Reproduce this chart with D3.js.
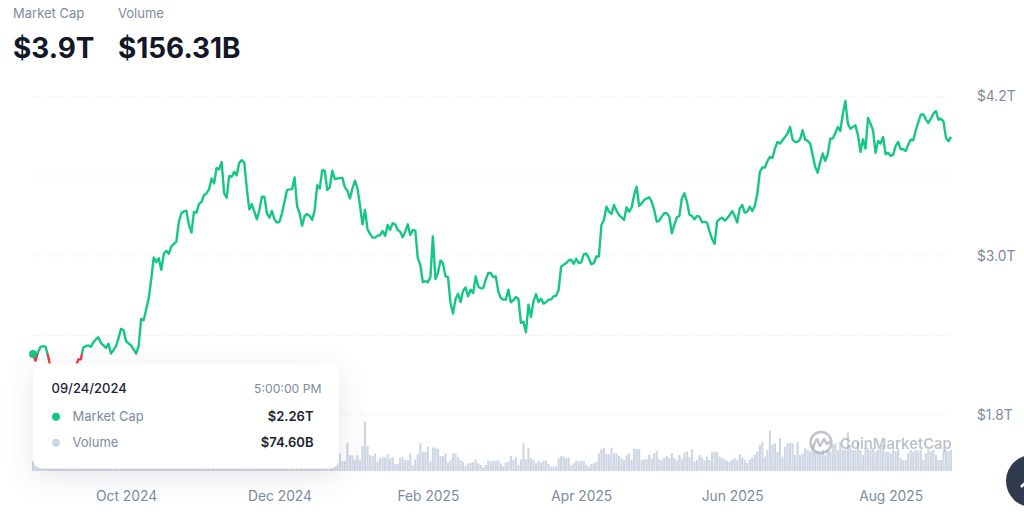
<!DOCTYPE html>
<html>
<head>
<meta charset="utf-8">
<script src="https://cdnjs.cloudflare.com/ajax/libs/d3/7.9.0/d3.min.js"></script>
<style>
html,body{margin:0;padding:0;background:#fff;overflow:hidden}
svg{display:block;font-family:Inter,"Noto Sans",sans-serif}
</style>
</head>
<body>
<svg id="chart" width="1024" height="517"></svg>
<script>
// Daily series, first value = startDate
const startDate = "2024-08-25";
const marketCap = [
2.26,2.21,2.275,2.315,2.32,2.315,2.245,2.155,2.10,2.08,
2.10,2.12,2.10,2.09,2.11,2.12,2.14,2.16,2.22,2.22,
2.31,2.32,2.325,2.315,2.35,2.37,2.387,2.345,2.325,2.307,
2.337,2.265,2.29,2.32,2.38,2.45,2.44,2.357,2.34,2.325,
2.295,2.265,2.32,2.525,2.515,2.595,2.68,2.82,2.987,2.952,
2.982,2.895,3.015,3.037,3.015,3.07,3.09,3.107,3.257,3.32,
3.335,3.34,3.232,3.175,3.33,3.325,3.39,3.405,3.457,3.47,
3.5,3.582,3.545,3.662,3.65,3.707,3.47,3.437,3.602,3.595,
3.632,3.607,3.7,3.72,3.702,3.507,3.35,3.39,3.332,3.275,
3.345,3.445,3.445,3.32,3.287,3.337,3.275,3.25,3.257,3.32,
3.407,3.495,3.5,3.502,3.59,3.375,3.32,3.227,3.3,3.315,
3.3,3.27,3.345,3.532,3.507,3.645,3.64,3.495,3.515,3.64,
3.577,3.582,3.585,3.587,3.515,3.49,3.432,3.507,3.565,3.51,
3.382,3.237,3.345,3.2,3.165,3.137,3.137,3.152,3.155,3.187,
3.15,3.232,3.195,3.245,3.237,3.195,3.182,3.14,3.182,3.237,
3.157,3.195,3.19,2.982,2.932,2.802,2.81,2.8,2.84,3.145,
2.825,2.87,2.965,2.945,2.845,2.84,2.645,2.565,2.675,2.715,
2.652,2.737,2.762,2.695,2.745,2.72,2.845,2.77,2.755,2.757,
2.82,2.87,2.87,2.84,2.845,2.732,2.682,2.67,2.67,2.745,
2.65,2.665,2.69,2.675,2.495,2.502,2.425,2.632,2.54,2.657,
2.712,2.652,2.677,2.64,2.65,2.67,2.67,2.695,2.7,2.745,
2.92,2.932,2.945,2.965,2.97,2.94,2.977,2.945,2.95,3.012,
3.015,2.982,2.937,2.945,2.995,2.995,3.232,3.27,3.37,3.332,
3.315,3.382,3.34,3.307,3.29,3.27,3.365,3.332,3.362,3.457,
3.52,3.375,3.395,3.42,3.432,3.44,3.407,3.345,3.257,3.265,
3.295,3.32,3.32,3.295,3.17,3.232,3.29,3.3,3.432,3.47,
3.407,3.31,3.30,3.275,3.30,3.295,3.252,3.257,3.25,3.182,
3.127,3.09,3.257,3.277,3.287,3.265,3.282,3.307,3.337,3.30,
3.25,3.357,3.382,3.325,3.332,3.37,3.337,3.377,3.47,3.632,
3.665,3.665,3.712,3.745,3.737,3.807,3.857,3.845,3.87,3.895,
3.92,3.97,3.875,3.857,3.857,3.877,3.945,3.875,3.865,3.845,
3.757,3.67,3.625,3.707,3.77,3.715,3.765,3.882,3.882,3.925,
3.97,3.94,4.07,4.165,3.995,3.957,3.97,3.982,3.907,3.782,
3.877,3.807,4.037,3.995,3.945,3.775,3.865,3.845,3.895,3.765,
3.775,3.752,3.762,3.827,3.857,3.802,3.802,3.79,3.837,3.875,
3.87,3.945,4.007,4.062,4.065,4.027,4.0,4.032,4.07,4.09,
4.025,4.032,4.012,3.89,3.862,3.895
];
// Volume in billions of dollars
const volume = [
74.6,62,48,40,70,66,58,72,64,60,
45,40,72,68,60,66,80,74,62,70,
58,42,38,60,70,64,76,68,60,58,
40,38,62,70,66,84,78,64,60,52,
44,40,68,72,70,96,118,110,140,128,
120,116,136,150,142,132,110,108,150,176,
160,150,142,130,150,146,128,132,118,140,
152,170,160,190,178,210,240,190,172,160,
150,130,170,166,150,190,220,180,150,158,
172,160,140,126,118,130,122,110,104,116,
128,140,130,120,146,170,164,130,118,104,
92,88,120,136,118,150,132,110,102,120,
84,57,131,74,74,205,118,113,86,118,
80,185,365,185,118,111,131,69,94,101,
101,123,94,101,52,52,99,101,81,81,
131,44,86,126,205,143,143,180,69,173,
173,163,111,111,131,62,81,131,131,101,
81,69,40,57,57,64,86,57,44,27,
44,77,69,74,74,81,57,37,64,69,
111,81,101,44,86,205,86,168,94,81,
57,74,62,74,77,52,32,32,32,94,
111,106,94,101,44,57,77,69,74,74,
44,32,52,57,69,131,160,173,126,126,
173,131,131,111,94,81,118,131,81,163,
163,163,81,86,86,118,94,131,148,86,
81,101,111,94,131,94,81,118,86,136,
143,101,160,69,81,118,101,77,106,81,
136,143,138,106,94,86,74,69,86,94,
81,123,101,81,57,86,101,118,143,193,
217,106,156,299,193,205,143,242,106,180,
205,210,205,118,217,118,131,168,156,143,
193,143,143,131,156,118,156,143,193,205,
156,217,156,156,287,193,156,156,217,156,
118,168,168,156,168,143,156,168,193,143,
143,131,156,143,168,94,81,81,131,156,
143,156,150,156,81,131,156,143,156,118,
81,81,143,156,143,156
];
const gridValues = [1.8,2.4,3.0,3.6,4.2];
const priceTicks = [1.8,3.0,4.2];
const priceTickLabels = ["$1.8T","$3.0T","$4.2T"];
const dateTicks = ["2024-10-01","2024-12-01","2025-01-29","2025-03-31","2025-05-30","2025-08-01"];
const dateTickLabels = ["Oct 2024","Dec 2024","Feb 2025","Apr 2025","Jun 2025","Aug 2025"];
const baseValue = 2.26;
const headerStats = [["Market Cap","$3.9T"],["Volume","$156.31B"]];
const tooltipDate = "09/24/2024", tooltipTime = "5:00:00 PM";
const tooltipRows = [["Market Cap","$2.26T","#16c784"],["Volume","$74.60B","#cfd6e4"]];

const GREEN="#16c784", RED="#ea3943", GREY="#808a9d";
const svg = d3.select("#chart");
const parse = d3.utcParse("%Y-%m-%d");
const start = parse(startDate);
const dates = marketCap.map((_,i)=>d3.utcDay.offset(start,i));

const x = d3.scaleUtc().domain([start, dates[dates.length-1]]).range([33,951]);
const y = d3.scaleLinear().domain([1.8,4.2]).range([415.2,96.4]);
const yVol = d3.scaleLinear().domain([0,370]).range([471,421]);

const defs = svg.append("defs");
const shadow = defs.append("filter").attr("id","shadow")
  .attr("x","-15%").attr("y","-30%").attr("width","130%").attr("height","170%");
shadow.append("feDropShadow").attr("dx",0).attr("dy",8).attr("stdDeviation",14)
  .attr("flood-color","#58667e").attr("flood-opacity",0.16);
defs.append("clipPath").attr("id","above").append("rect")
  .attr("x",0).attr("y",0).attr("width",1024).attr("height",y(baseValue));
defs.append("clipPath").attr("id","below").append("rect")
  .attr("x",0).attr("y",y(baseValue)).attr("width",1024).attr("height",517-y(baseValue));

// header
const hx=[13,118];
headerStats.forEach((s,i)=>{
  svg.append("text").attr("x",hx[i]).attr("y",18).attr("font-size",13)
    .attr("fill",GREY).text(s[0]);
  svg.append("text").attr("x",hx[i]).attr("y",57.5).attr("font-size",27.9)
    .attr("font-weight",700).attr("fill","#111827").text(s[1]);
});

// grid
svg.append("g").selectAll("line").data(gridValues).join("line")
  .attr("x1",33).attr("x2",951)
  .attr("y1",d=>y(d)).attr("y2",d=>y(d))
  .attr("stroke","#e6e9ee").attr("stroke-width",1)
  .attr("stroke-dasharray","1 2");

// y axis labels
const yAxis = d3.axisRight(y).tickValues(priceTicks)
  .tickFormat((d,i)=>priceTickLabels[i]).tickSize(0).tickPadding(0);
const gy = svg.append("g").attr("transform","translate(977,0)").call(yAxis);
gy.select(".domain").remove();
gy.selectAll("text").attr("font-family","Inter,sans-serif").attr("font-size",13.8).attr("fill",GREY);

// x axis labels
const xAxis = d3.axisBottom(x).tickValues(dateTicks.map(parse))
  .tickFormat((d,i)=>dateTickLabels[i]).tickSize(0).tickPadding(0);
const gx = svg.append("g").attr("transform","translate(0,491)").call(xAxis);
gx.select(".domain").remove();
gx.selectAll("text").attr("font-family","Inter,sans-serif").attr("font-size",13.8).attr("fill",GREY);

// volume bars
svg.append("g").selectAll("rect").data(volume).join("rect")
  .attr("x",(d,i)=>x(dates[i])-1.1)
  .attr("width",2.2)
  .attr("y",d=>yVol(d))
  .attr("height",d=>yVol(0)-yVol(d))
  .attr("fill","#cfd6e4");

// watermark
const mark = svg.append("g").attr("opacity",0.62);
mark.append("circle").attr("cx",821).attr("cy",442.5).attr("r",10.5)
  .attr("fill","none").attr("stroke","#9aa0ad").attr("stroke-width",2.4);
mark.append("path")
  .attr("d",d3.line().curve(d3.curveCatmullRom)([[813,449],[817,439],[820,446],[824,439],[827,444],[830,441]]))
  .attr("fill","none").attr("stroke","#9aa0ad").attr("stroke-width",2.4);
mark.append("text").attr("x",840).attr("y",449).attr("font-size",14.8)
  .attr("font-weight",600).attr("fill","#9aa0ad").text("CoinMarketCap");

// market cap line, split at the base value
const line = d3.line().x((d,i)=>x(dates[i])).y(d=>y(d)).curve(d3.curveLinear);
[["above",GREEN],["below",RED]].forEach(([id,col])=>{
  svg.append("path").datum(marketCap).attr("d",line)
    .attr("clip-path",`url(#${id})`)
    .attr("fill","none").attr("stroke",col).attr("stroke-width",2.4)
    .attr("stroke-linejoin","round");
});
svg.append("circle").attr("cx",x(dates[0])).attr("cy",y(marketCap[0])).attr("r",4).attr("fill",GREEN);

// tooltip
const tip = svg.append("g");
tip.append("rect").attr("x",33).attr("y",363.5).attr("width",306).attr("height",105)
  .attr("rx",9).attr("fill","#fff").attr("filter","url(#shadow)");
tip.append("text").attr("x",51.5).attr("y",393).attr("font-size",13).attr("font-weight",500)
  .attr("fill","#222531").text(tooltipDate);
tip.append("text").attr("x",321.5).attr("y",393).attr("text-anchor","end").attr("font-size",12.2)
  .attr("fill",GREY).text(tooltipTime);
const rowY=[421,447];
tooltipRows.forEach((r,i)=>{
  tip.append("circle").attr("cx",56).attr("cy",rowY[i]-4.3).attr("r",4).attr("fill",r[2]);
  tip.append("text").attr("x",72.5).attr("y",rowY[i]).attr("font-size",13)
    .attr("fill",GREY).text(r[0]);
  tip.append("text").attr("x",313.5).attr("y",rowY[i]).attr("text-anchor","end").attr("font-size",13)
    .attr("font-weight",600).attr("fill","#222531").text(r[1]);
});

// floating button at the page edge
svg.append("circle").attr("cx",1032).attr("cy",481).attr("r",26).attr("fill","#2f3a4c");
svg.append("path").attr("d","M1021 487 L1027 481").attr("stroke","#fff").attr("stroke-width",2.5).attr("fill","none");
</script>
</body>
</html>
